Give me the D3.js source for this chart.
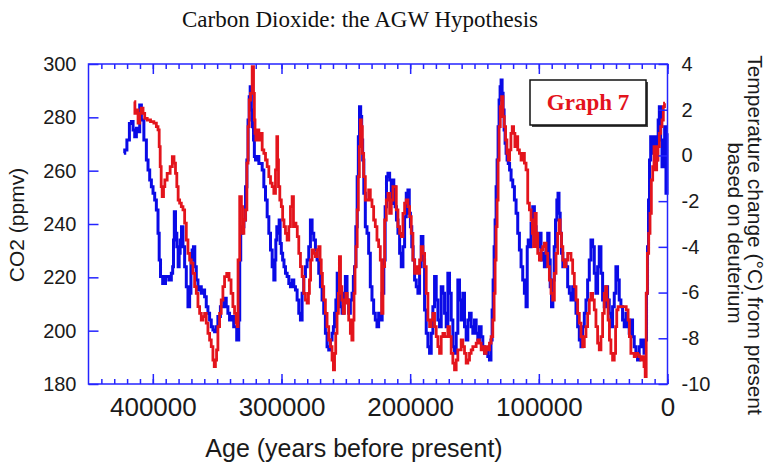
<!DOCTYPE html>
<html lang="en">
<head>
<meta charset="UTF-8" />
<title>Carbon Dioxide: the AGW Hypothesis</title>
<style>
  * { margin: 0; padding: 0; }
  body { background: #fff; }
  svg { display: block; overflow: visible; }
</style>
</head>
<body>
<div id="chart"></div>
<script src="https://d3js.org/d3.v7.min.js"></script>
<script>
// Vostok ice core, CO2: [age in years before present, ppmv]
const co2Series = [
  [414460,285.9],[413430,281.5],[412130,282.8],[410840,277.8],[409550,281.5],[408250,283.4],[406960,281.5],[405670,279.6],
  [403080,279.0],[400500,278.4],[397910,277.8],[396620,276.5],[395320,275.3],[394800,269.0],[393770,261.5],[393250,254.0],
  [392220,250.3],[391190,254.0],[390150,256.5],[387570,259.0],[385500,261.5],[384200,265.3],[382910,262.8],[381880,259.0],
  [380840,254.0],[379810,249.0],[378520,247.8],[377220,246.5],[375930,245.3],[374640,240.3],[373340,234.0],[372050,229.0],
  [370760,226.5],[369470,225.3],[368170,221.5],[366880,216.5],[365580,214.0],[364290,209.0],[363000,206.5],[361700,204.0],
  [360410,205.3],[359120,206.5],[357830,202.8],[356530,199.0],[355240,196.5],[353950,194.0],[352650,189.0],[351880,186.5],
  [350850,189.0],[350070,192.8],[348780,201.5],[347480,206.5],[346190,211.5],[344900,216.5],[343600,220.3],[341540,221.5],
  [339990,219.0],[338430,214.0],[337140,209.0],[335850,206.5],[334560,202.8],[334280,201.5],[333250,226.5],[331700,250.3],
  [330660,246.5],[329880,236.5],[328590,241.5],[327300,245.3],[326520,262.8],[325490,276.5],[324710,286.5],[323420,289.0],
  [322130,299.0],[321350,289.0],[320830,279.0],[320320,274.0],[319540,271.5],[318250,275.3],[316960,271.5],[315660,274.0],
  [314370,267.8],[313080,266.5],[311780,264.0],[310490,261.5],[309200,257.8],[307900,255.3],[306610,254.0],[305320,251.5],
  [304030,260.3],[303250,272.8],[302730,264.0],[301960,254.0],[300660,249.0],[299630,246.5],[298590,241.5],[297560,239.0],
  [296270,236.5],[294970,234.0],[293680,239.0],[292390,246.5],[291090,250.3],[290320,239.0],[289280,240.3],[288250,239.0],
  [287220,235.3],[285920,229.0],[284630,224.0],[283340,220.3],[282040,214.0],[280750,211.5],[279460,210.3],[278680,214.0],
  [277900,219.0],[276870,226.5],[275580,230.3],[274290,229.0],[272990,227.8],[271700,230.3],[270410,231.5],[269630,226.5],
  [268600,221.5],[267820,216.5],[266530,211.5],[265240,206.5],[263940,201.5],[262650,196.5],[261360,194.0],[260060,189.0],
  [259290,185.3],[258250,191.5],[257480,199.0],[256180,206.5],[255410,214.0],[254630,227.8],[253600,216.5],[252560,211.5],
  [251530,206.5],[250500,210.3],[249460,214.0],[248430,211.5],[247130,204.0],[245840,199.0],[244810,196.5],[244030,204.0],
  [243250,214.0],[242480,224.0],[241700,231.5],[240670,245.3],[239890,257.8],[239120,269.0],[238340,279.0],[237560,276.5],
  [236790,266.5],[235500,257.8],[234200,249.0],[232910,249.0],[231620,252.8],[230330,249.0],[229030,246.5],[227740,241.5],
  [226450,239.0],[225150,234.0],[223860,231.5],[222570,226.5],[221780,206.5],[220490,224.0],[219190,241.5],[217900,249.0],
  [216610,251.5],[215310,244.0],[214020,249.0],[212730,254.0],[211430,254.0],[210140,245.3],[208850,239.0],[207550,236.5],
  [206260,235.3],[204970,244.0],[203680,247.8],[202380,249.0],[201090,246.5],[199800,242.8],[198500,236.5],[197210,226.5],
  [195920,221.5],[194620,224.0],[193330,221.5],[192040,226.5],[190740,231.5],[189450,229.0],[188160,224.0],[186870,214.0],
  [185570,204.0],[184280,201.5],[182990,204.0],[181690,206.5],[180400,201.5],[179110,197.8],[177810,194.0],[176520,191.5],
  [175230,197.8],[173930,199.0],[172640,197.8],[171350,197.8],[170060,201.5],[168760,197.8],[167470,191.5],[166180,187.8],
  [164880,185.3],[163590,189.0],[162300,192.8],[161000,192.8],[159710,196.5],[158420,194.0],[157120,191.5],[155830,187.8],
  [154540,189.0],[153250,191.5],[151950,192.8],[150660,194.0],[149370,194.0],[148070,195.3],[146780,196.5],[145490,195.3],
  [144190,192.8],[142900,194.0],[141610,191.5],[140320,194.0],[139020,192.8],[137730,195.3],[136440,197.8],[135140,204.0],
  [134370,214.0],[133590,226.5],[132820,239.0],[132040,249.0],[131270,264.0],[130490,276.5],[129460,284.0],[128420,287.8],
  [127390,280.3],[126350,276.5],[125320,271.5],[124280,266.5],[123250,264.0],[122220,267.8],[121180,274.0],[120150,276.5],
  [119110,274.0],[118080,269.0],[117040,272.8],[115750,267.8],[114460,266.5],[113160,264.0],[111870,266.5],[110580,262.8],
  [109290,260.3],[107970,247.8],[106680,245.3],[105390,241.5],[104610,236.5],[103580,231.5],[102540,244.0],[101510,236.5],
  [100220,229.0],[98920,226.5],[97630,230.3],[96340,231.5],[95050,232.8],[93750,229.0],[92460,224.0],[91170,219.0],
  [89870,214.0],[88580,211.5],[87290,221.5],[85990,229.0],[84700,236.5],[83930,241.5],[82890,236.5],[81860,231.5],
  [80820,226.5],[79530,224.0],[78240,226.5],[76940,229.0],[75650,229.0],[74360,226.5],[73060,221.5],[71770,216.5],
  [70480,211.5],[69190,206.5],[67890,202.8],[66600,197.8],[65310,194.0],[64010,197.8],[62720,201.5],[61430,206.5],
  [60130,211.5],[58840,214.0],[57550,211.5],[56250,207.8],[54960,201.5],[53670,195.3],[52380,192.8],[51080,197.8],
  [49790,206.5],[48500,214.0],[47720,216.5],[46690,211.5],[45650,204.0],[44620,196.5],[43330,191.5],[42030,189.0],
  [40740,191.5],[39960,201.5],[38930,207.8],[37900,209.0],[35570,209.0],[32980,209.0],[31170,207.8],[30140,204.0],
  [29100,197.8],[27810,191.5],[26520,191.5],[25220,190.3],[23930,191.5],[22640,190.9],[21340,190.3],[20050,189.0],
  [18760,190.3],[17730,186.5],[16950,182.8],[16170,214.0],[15140,229.0],[14100,236.5],[13070,244.0],[12030,256.5],
  [11000,261.5],[9970,269.0],[8930,260.3],[7900,264.0],[6860,269.0],[5830,274.0],[4790,276.5],[3760,279.0],
  [2730,284.0],[1950,285.3]
];

// Vostok ice core, deuterium temperature: [age in years before present, °C from present]
const tempSeries = [
  [422480,0.09],[421180,0.24],[419120,0.67],[417300,1.40],[416010,1.48],[414720,1.11],[413430,0.82],[412130,1.19],
  [410840,1.04],[409550,2.21],[408250,1.55],[405670,0.67],[404380,-0.20],[403080,-0.64],[401790,-1.07],[400500,-1.37],
  [399200,-1.66],[397910,-1.95],[396620,-2.39],[395320,-3.41],[394800,-4.57],[393250,-5.30],[391440,-5.60],[388860,-5.30],
  [386270,-5.45],[384980,-5.16],[384200,-4.87],[383690,-3.70],[382910,-2.46],[381880,-3.41],[380840,-3.99],[379810,-4.87],
  [379290,-4.28],[378260,-3.70],[377220,-3.12],[375930,-3.99],[374640,-4.87],[373340,-5.74],[372050,-6.62],[370760,-6.03],
  [369980,-4.57],[368950,-4.14],[367910,-3.99],[366880,-4.87],[365580,-5.45],[364290,-5.89],[363000,-5.74],[361700,-6.03],
  [360410,-5.89],[359120,-6.18],[357830,-6.62],[356530,-6.91],[355240,-7.20],[353950,-7.49],[352650,-7.64],[351360,-7.71],
  [350070,-7.49],[348780,-7.05],[346190,-6.62],[343600,-6.25],[342310,-6.62],[341020,-6.91],[339730,-7.20],[338430,-7.05],
  [335850,-7.49],[333760,-8.07],[332730,-7.20],[332210,-4.57],[331180,-3.41],[329880,-3.12],[328590,-2.82],[327300,-1.37],
  [326520,-0.20],[325490,1.55],[324710,2.57],[323940,3.01],[322900,1.99],[322130,1.26],[321350,0.67],[320830,-0.05],
  [319540,-0.20],[318250,-0.05],[316960,-0.35],[315660,-0.35],[314370,-0.64],[313080,-1.37],[311780,-1.95],[310490,-2.68],
  [309200,-3.41],[307900,-4.14],[306610,-4.87],[305320,-5.45],[304800,-4.57],[304030,-3.70],[303250,-3.12],[302220,-3.41],
  [301440,-2.82],[300660,-3.85],[299630,-4.28],[298590,-4.57],[297560,-4.87],[296270,-5.16],[294970,-5.30],[293680,-5.60],
  [292390,-5.74],[291090,-5.45],[289800,-5.74],[288510,-5.89],[287220,-6.32],[285920,-6.91],[284630,-7.20],[283340,-6.03],
  [282040,-5.30],[280750,-4.87],[279460,-4.57],[278170,-3.99],[276870,-2.82],[275580,-3.41],[274290,-3.70],[272990,-4.14],
  [271700,-4.57],[270410,-5.16],[269110,-5.74],[267820,-6.32],[266530,-6.91],[265240,-7.78],[263940,-8.37],[262650,-8.51],
  [261360,-8.07],[260060,-7.78],[259290,-7.49],[258250,-6.91],[257220,-6.32],[256180,-5.16],[254890,-6.03],[253600,-6.62],
  [252300,-6.91],[251010,-6.03],[249720,-5.30],[248430,-6.32],[247130,-6.91],[245840,-6.32],[244550,-6.03],[243770,-5.30],
  [242740,-4.87],[241700,-3.12],[240670,-0.93],[239890,0.82],[238860,2.13],[238080,1.70],[237310,0.67],[236530,-0.20],
  [235500,-1.66],[234200,-3.12],[232910,-3.41],[231620,-4.28],[230330,-5.74],[229030,-6.32],[227740,-6.91],[226450,-7.20],
  [225150,-7.49],[223860,-6.91],[222570,-7.20],[221000,-6.03],[219970,-4.57],[218930,-2.24],[217900,-0.93],[216610,-0.78],
  [215310,-1.07],[214020,-2.10],[213240,-1.07],[212210,-1.37],[211170,-2.24],[210140,-2.82],[208850,-3.41],[207550,-4.28],
  [206260,-4.87],[204970,-3.99],[203680,-2.68],[202380,-1.66],[201090,-1.51],[200310,-2.53],[199280,-3.12],[198240,-3.99],
  [197210,-4.57],[195920,-5.45],[194620,-5.74],[193330,-6.03],[192040,-4.87],[190740,-3.55],[189450,-4.57],[188160,-6.76],
  [186870,-7.78],[185570,-8.37],[184280,-8.66],[182990,-7.78],[181690,-6.62],[180400,-5.30],[179110,-6.32],[177810,-7.20],
  [176520,-7.49],[175230,-5.74],[173930,-6.03],[172640,-6.91],[171350,-7.49],[170060,-5.16],[168760,-6.03],[167470,-7.20],
  [166180,-8.37],[164880,-8.66],[163590,-7.78],[162300,-5.45],[161000,-6.32],[159710,-7.20],[158420,-6.03],[157120,-7.49],
  [155830,-8.07],[154540,-7.20],[153250,-6.91],[151950,-7.49],[150660,-7.78],[149370,-7.20],[148070,-7.78],[146780,-8.07],
  [145490,-7.49],[144190,-7.93],[142900,-8.37],[141610,-8.66],[140320,-8.51],[139020,-8.80],[137730,-8.95],[136690,-8.07],
  [135920,-6.76],[135140,-5.45],[134370,-3.99],[133590,-2.82],[132820,-1.37],[132040,-0.20],[131270,1.26],[130490,2.42],
  [129720,3.01],[128940,3.30],[128170,2.72],[127390,1.99],[126610,1.11],[125840,0.53],[125060,0.09],[124280,-0.20],
  [123250,-0.35],[122220,-0.64],[120920,-1.07],[119630,-1.37],[118340,-1.95],[117040,-2.53],[115750,-3.41],[114460,-4.14],
  [113160,-4.87],[111870,-5.45],[110580,-6.03],[109290,-6.62],[108750,-3.99],[107720,-3.70],[106680,-3.99],[105390,-2.97],
  [104100,-2.24],[102800,-3.12],[101510,-3.41],[100220,-3.99],[98920,-3.41],[97630,-4.57],[96340,-4.28],[95050,-4.87],
  [93750,-3.99],[92460,-3.41],[91680,-4.57],[90650,-5.74],[89620,-6.62],[88580,-5.45],[87550,-3.99],[86510,-2.82],
  [85480,-1.95],[84700,-1.66],[83930,-2.53],[82890,-3.41],[81860,-4.28],[80820,-4.87],[79530,-4.57],[78240,-4.87],
  [76940,-5.74],[75650,-6.03],[74360,-6.32],[73060,-5.74],[71770,-6.32],[70480,-6.91],[69190,-7.49],[67890,-8.07],
  [66600,-8.37],[65310,-7.49],[64010,-6.91],[62720,-6.32],[61430,-5.45],[60130,-4.57],[58840,-3.70],[57550,-3.99],
  [56250,-5.16],[54960,-6.03],[53670,-4.87],[52380,-3.99],[51080,-5.16],[49790,-6.32],[48500,-6.62],[47200,-5.74],
  [45910,-6.32],[44620,-6.91],[43330,-7.49],[42030,-6.62],[40740,-6.03],[39450,-4.87],[38150,-5.45],[36860,-6.32],
  [35570,-6.62],[34270,-7.20],[32980,-7.49],[31690,-6.91],[30390,-7.49],[29100,-7.78],[27810,-7.20],[26520,-7.93],
  [25220,-8.37],[23930,-8.66],[22640,-8.95],[21340,-8.37],[20050,-8.07],[18760,-8.37],[17730,-8.66],[16690,-8.07],
  [15910,-6.03],[15140,-3.99],[14360,-1.95],[13590,-0.20],[12550,0.82],[11520,0.09],[10480,0.53],[9450,0.82],
  [8420,-0.20],[7640,0.67],[6860,1.55],[5830,2.13],[4790,0.67],[3760,-0.49],[2730,0.38],[1690,1.26],
  [660,-1.66],[0,0.97]
];

const ageTicks = [400000, 300000, 200000, 100000, 0];
const ageMinorTicks = d3.range(0, 450000, 10000);
const co2Ticks = [180, 200, 220, 240, 260, 280, 300];
const tempTicks = [-10, -8, -6, -4, -2, 0, 2, 4];

const width = 769;
const height = 465;
const margin = { top: 64, right: 101.5, bottom: 81, left: 88.5 };
const innerWidth = width - margin.left - margin.right;
const innerHeight = height - margin.top - margin.bottom;

const axisBlue = "#2424ff";
const tempBlue = "#0a0ae6";
const co2Red = "#e3141c";
const sans = "'Liberation Sans', Arial, Helvetica, sans-serif";
const serif = "'Liberation Serif', 'Times New Roman', serif";

const svg = d3.select("#chart")
  .append("svg")
  .attr("width", width)
  .attr("height", height)
  .style("font-family", sans);

const xScale = d3.scaleLinear().domain([450000, 0]).range([0, innerWidth]);
const co2Scale = d3.scaleLinear().domain([180, 300]).range([innerHeight, 0]);
const tempScale = d3.scaleLinear().domain([-10, 4]).range([innerHeight, 0]);

// title
svg.append("text")
  .attr("x", 360)
  .attr("y", 27)
  .attr("text-anchor", "middle")
  .attr("font-family", serif)
  .attr("font-size", 23)
  .attr("fill", "#111")
  .text("Carbon Dioxide: the AGW Hypothesis");

const group = svg.append("g").attr("transform", `translate(${margin.left},${margin.top})`);

// lines
const tempLine = d3.line()
  .x((d) => xScale(d[0]))
  .y((d) => tempScale(d[1]))
  .curve(d3.curveStep);

const co2Line = d3.line()
  .x((d) => xScale(d[0]))
  .y((d) => co2Scale(d[1]))
  .curve(d3.curveStep);

group.append("path")
  .datum(tempSeries)
  .attr("fill", "none")
  .attr("stroke", tempBlue)
  .attr("stroke-width", 3)
  .attr("d", tempLine);

group.append("path")
  .datum(co2Series)
  .attr("fill", "none")
  .attr("stroke", co2Red)
  .attr("stroke-width", 2.8)
  .attr("d", co2Line);

// axes, ticks pointing inwards
function styleAxis(sel, size) {
  sel.select(".domain").remove();
  sel.selectAll(".tick line").attr("stroke", axisBlue).attr("stroke-width", 1.5);
  sel.selectAll(".tick text")
    .attr("fill", "#1a1a1a")
    .attr("font-family", sans)
    .attr("font-size", size);
}
function tickMarksOnly(sel) {
  sel.selectAll(".tick text").remove();
}
const fmt = (d) => String(d);

group.append("g")
  .attr("transform", `translate(0,${innerHeight})`)
  .call(d3.axisBottom(xScale).tickValues(ageMinorTicks).tickSize(-5))
  .call(styleAxis, 10)
  .call(tickMarksOnly);
group.append("g")
  .attr("transform", `translate(0,${innerHeight})`)
  .call(d3.axisBottom(xScale).tickValues(ageTicks).tickSize(-10).tickPadding(14).tickFormat(fmt))
  .call(styleAxis, 26);

group.append("g")
  .call(d3.axisTop(xScale).tickValues(ageMinorTicks).tickSize(-5))
  .call(styleAxis, 10)
  .call(tickMarksOnly);
group.append("g")
  .call(d3.axisTop(xScale).tickValues(ageTicks).tickSize(-10))
  .call(styleAxis, 10)
  .call(tickMarksOnly);

group.append("g")
  .call(d3.axisLeft(co2Scale).tickValues(co2Ticks).tickSize(-10).tickPadding(12).tickFormat(fmt))
  .call(styleAxis, 20);

group.append("g")
  .attr("transform", `translate(${innerWidth},0)`)
  .call(d3.axisRight(tempScale).tickValues(tempTicks).tickSize(-9).tickPadding(14).tickFormat(fmt))
  .call(styleAxis, 20);

group.append("rect")
  .attr("width", innerWidth)
  .attr("height", innerHeight)
  .attr("fill", "none")
  .attr("stroke", axisBlue)
  .attr("stroke-width", 1.5);

// axis titles
svg.append("text")
  .attr("x", 354)
  .attr("y", 457)
  .attr("text-anchor", "middle")
  .attr("font-size", 25)
  .attr("fill", "#1a1a1a")
  .text("Age (years before present)");

svg.append("text")
  .attr("transform", "translate(24,225) rotate(-90)")
  .attr("text-anchor", "middle")
  .attr("font-size", 21)
  .attr("fill", "#1a1a1a")
  .text("CO2 (ppmv)");

svg.append("text")
  .attr("transform", "translate(748,235) rotate(90)")
  .attr("text-anchor", "middle")
  .attr("font-size", 21)
  .attr("fill", "#1a1a1a")
  .text("Temperature change (°C) from present");

svg.append("text")
  .attr("transform", "translate(728,233) rotate(90)")
  .attr("text-anchor", "middle")
  .attr("font-size", 20.5)
  .attr("fill", "#1a1a1a")
  .text("based on deuterium");

// "Graph 7" label box
const label = svg.append("g").attr("transform", "translate(530,80)");
label.append("rect")
  .attr("x", 2).attr("y", 2)
  .attr("width", 116).attr("height", 45)
  .attr("fill", "#444");
label.append("rect")
  .attr("width", 116).attr("height", 45)
  .attr("fill", "#fff")
  .attr("stroke", "#111")
  .attr("stroke-width", 1.5);
label.append("text")
  .attr("x", 58)
  .attr("y", 30)
  .attr("text-anchor", "middle")
  .attr("font-family", serif)
  .attr("font-weight", "bold")
  .attr("font-size", 23)
  .attr("fill", "#e3141c")
  .text("Graph 7");
</script>
</body>
</html>
